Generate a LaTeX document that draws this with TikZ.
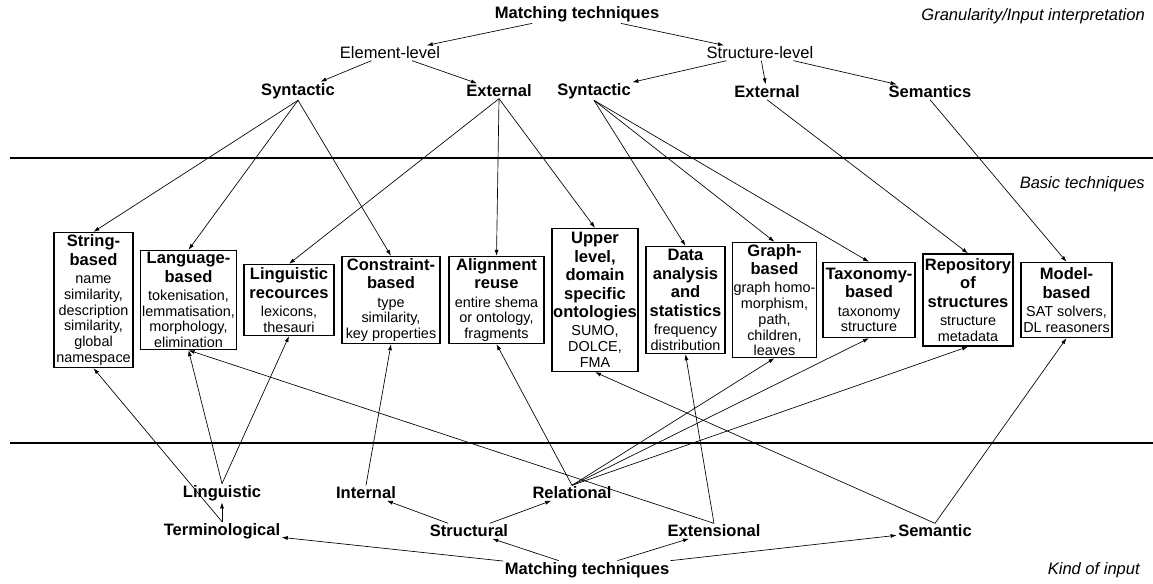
\documentclass[tikz,border=0pt]{standalone}
\usepackage{fontspec}
\setmainfont{Liberation Sans}
\usetikzlibrary{arrows.meta}
\newcommand{\ttl}[1]{{\fontsize{12.4}{13}\selectfont\bfseries #1}}

\begin{document}
\begin{tikzpicture}[x=0.75pt,y=-0.75pt,
  arr/.style={-{Latex[length=4.5pt,width=3pt]},line width=0.5pt},
  lbl/.style={font=\fontsize{12.4}{14}\selectfont\bfseries,inner sep=1pt},
  lvl/.style={font=\fontsize{12.4}{14}\selectfont,inner sep=1pt},
  side/.style={font=\fontsize{12.4}{14}\selectfont\itshape,inner sep=0pt,anchor=east},
  tech/.style={draw,line width=1pt,align=center,inner sep=1pt,
    font=\fontsize{10.8}{11.8}\selectfont},
  boxsize/.style 2 args={minimum width=#1*0.75pt,minimum height=#2*0.75pt}]
  \useasboundingbox (0,0) rectangle (1153,583);
  \draw[line width=1pt] (10,158) -- (1153,158);
  \draw[line width=1pt] (10,443) -- (1153,443);
  \node[side] (gran) at (1145,16) {Granularity/Input interpretation};
  \node[side] (basic) at (1145,184) {Basic techniques};
  \node[side] (kind) at (1140,570) {Kind of input};
  \node[lbl] (mtop) at (577,14) {Matching techniques};
  \node[lvl] (el) at (390,53) {Element-level};
  \node[lvl] (sl) at (760,53) {Structure-level};
  \node[lbl] (syn1) at (298,91) {Syntactic};
  \node[lbl] (ext1) at (499,91) {External};
  \node[lbl] (syn2) at (594,91) {Syntactic};
  \node[lbl] (ext2) at (767,92) {External};
  \node[lbl] (sem) at (930,92) {Semantics};
  \node[tech,boxsize={79}{135}] (string) at (93.5,300)
    {\ttl{String-}\\[2pt]\ttl{based}\\[2pt]name\\similarity,\\description\\similarity,\\global\\namespace};
  \node[tech,boxsize={95}{99}] (lang) at (188.5,300)
    {\ttl{Language-}\\[2pt]\ttl{based}\\[2pt]tokenisation,\\lemmatisation,\\morphology,\\elimination};
  \node[tech,boxsize={90}{71}] (lingres) at (289,300)
    {\ttl{Linguistic}\\[2pt]\ttl{recources}\\[2pt]lexicons,\\thesauri};
  \node[tech,boxsize={98}{87}] (constr) at (391,300)
    {\ttl{Constraint-}\\[2pt]\ttl{based}\\[2pt]type\\similarity,\\key properties};
  \node[tech,boxsize={95}{87}] (align) at (496.5,300)
    {\ttl{Alignment}\\[2pt]\ttl{reuse}\\[2pt]entire shema\\or ontology,\\fragments};
  \node[tech,boxsize={86}{143}] (upper) at (595,300)
    {\ttl{Upper}\\[2pt]\ttl{level,}\\[2pt]\ttl{domain}\\[2pt]\ttl{specific}\\[2pt]\ttl{ontologies}\\[2pt]SUMO,\\DOLCE,\\FMA};
  \node[tech,boxsize={79}{107}] (data) at (685.5,300)
    {\ttl{Data}\\[2pt]\ttl{analysis}\\[2pt]\ttl{and}\\[2pt]\ttl{statistics}\\[2pt]frequency\\distribution};
  \node[tech,boxsize={83}{115}] (graph) at (774.5,300)
    {\ttl{Graph-}\\[2pt]\ttl{based}\\[2pt]graph homo-\\morphism,\\path,\\children,\\leaves};
  \node[tech,boxsize={92}{75}] (taxo) at (869,300)
    {\ttl{Taxonomy-}\\[2pt]\ttl{based}\\[2pt]taxonomy\\structure};
  \node[tech,boxsize={90}{92}] (repo) at (968,300)
    {\ttl{Repository}\\[2pt]\ttl{of}\\[2pt]\ttl{structures}\\[2pt]structure\\metadata};
  \node[tech,boxsize={91}{75}] (model) at (1066.5,300)
    {\ttl{Model-}\\[2pt]\ttl{based}\\[2pt]SAT solvers,\\DL reasoners};
  \node[lbl] (ling) at (222,493) {Linguistic};
  \node[lbl] (term) at (222,531) {Terminological};
  \node[lbl] (intern) at (366,493) {Internal};
  \node[lbl] (struc) at (469,531) {Structural};
  \node[lbl] (rel) at (572,493) {Relational};
  \node[lbl] (ext) at (714,531) {Extensional};
  \node[lbl] (sman) at (935,531) {Semantic};
  \node[lbl] (mbot) at (587,570) {Matching techniques};
  \draw[arr] (mtop) -- (el);
  \draw[arr] (mtop) -- (sl);
  \draw[arr] (el) -- (syn1);
  \draw[arr] (el) -- (ext1);
  \draw[arr] (sl) -- (syn2);
  \draw[arr] (sl) -- (ext2);
  \draw[arr] (sl) -- (sem);
  \foreach \a/\b in {syn1/string,syn1/lang,syn1/constr,ext1/lingres,ext1/align,ext1/upper,
                     syn2/data,syn2/graph,syn2/taxo,ext2/repo,sem/model}
    {\draw[arr] (\a.south) -- (\b.north);}
  \foreach \a/\b in {term/string,ling/lang,ling/lingres,intern/constr,rel/align,ext/lang,
                     ext/data,sman/upper,rel/graph,rel/taxo,rel/repo,sman/model}
    {\draw[arr] (\a.north) -- (\b.south);}
  \draw[arr] (term) -- (ling);
  \draw[arr] (struc) -- (intern);
  \draw[arr] (struc) -- (rel);
  \draw[arr] (mbot) -- (term);
  \draw[arr] (mbot) -- (struc);
  \draw[arr] (mbot) -- (ext);
  \draw[arr] (mbot) -- (sman);
\end{tikzpicture}
\end{document}
